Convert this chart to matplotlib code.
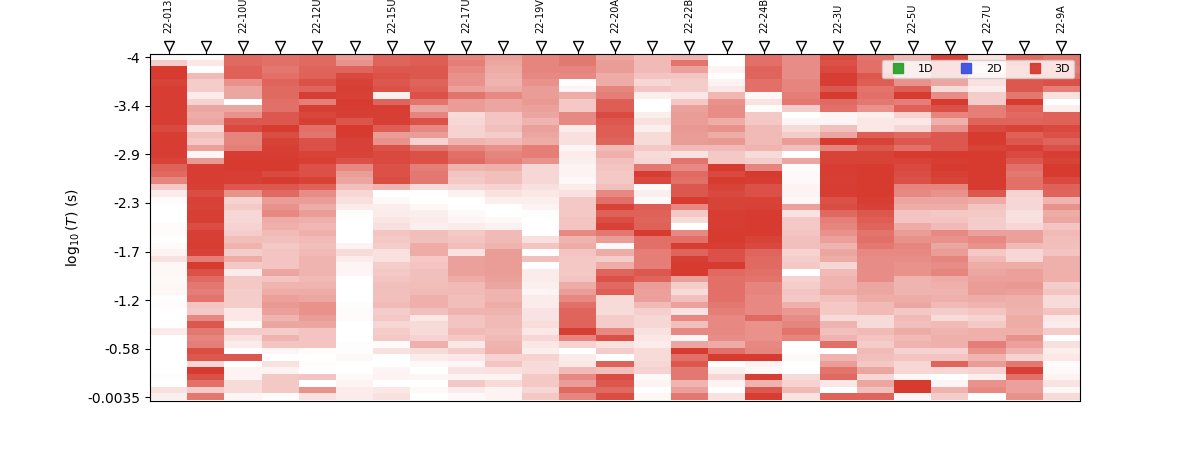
import numpy as np
import matplotlib
matplotlib.use('Agg')
import matplotlib.pyplot as plt
from matplotlib.colors import LinearSegmentedColormap
from matplotlib.lines import Line2D

# fraction of the 3D signal (in percent) per sample, one list per column
c00 = [4,25,100,100,95,98,98,98,98,98,98,92,98,98,98,98,95,80,75,62,28,10,2,0,0,0,2,
       2,0,2,6,15,4,4,3,4,4,1,2,0,0,0,10,0,0,0,0,0,0,1,0,15,8]
c01 = [2,12,0,35,25,25,10,22,45,42,45,18,32,28,48,5,52,98,98,98,97,90,96,95,97,97,90,
       97,97,98,96,65,100,88,75,68,65,70,30,28,60,85,68,62,65,90,85,20,100,88,72,25,68]
c02 = [75,75,80,80,55,45,45,0,45,55,85,92,62,62,65,98,100,100,98,97,85,55,22,27,20,20,22,
       25,33,38,25,42,28,10,28,28,25,25,25,12,12,4,25,15,10,0,85,0,6,6,18,18,5]
c03 = [72,72,68,72,78,76,76,72,72,85,85,100,90,95,97,98,100,100,92,100,85,75,50,55,60,42,40,
       35,32,28,30,30,30,45,30,38,42,48,52,48,38,45,25,38,30,5,0,15,6,28,28,28,2]
c04 = [75,75,78,80,88,78,98,65,97,93,97,72,70,88,88,95,97,88,88,95,80,58,50,42,50,40,36,
       40,35,32,35,38,38,38,35,38,42,45,55,55,50,45,30,30,30,2,0,2,0,30,0,55,15]
c05 = [50,55,78,92,96,97,96,100,98,97,86,100,100,96,96,95,88,60,50,45,32,20,16,10,1,0,0,
       0,0,6,18,10,5,5,0,0,0,0,1,2,2,0,0,0,1,1,3,0,0,3,6,10,10]
c06 = [78,78,85,88,85,88,8,78,98,97,97,82,50,55,88,92,92,88,88,90,38,0,3,8,10,13,16,
       30,28,25,15,16,25,28,30,32,32,32,35,25,28,20,25,28,2,15,0,0,5,6,0,12,15]
c07 = [82,82,85,85,78,82,88,70,45,62,88,60,50,22,70,88,88,65,68,68,18,0,0,4,8,10,8,
       33,32,42,42,28,30,32,32,33,35,40,40,32,12,18,18,22,40,18,10,3,0,5,0,3,0]
c08 = [62,65,60,55,55,48,70,50,50,18,20,22,22,38,62,72,75,38,30,28,20,7,0,0,3,5,10,
       28,30,33,14,48,48,48,42,35,35,33,33,38,30,30,35,28,12,25,12,5,14,6,28,10,3]
c09 = [48,45,42,40,38,42,60,45,45,30,30,32,25,35,55,62,65,40,32,32,22,15,8,0,0,3,7,
       35,35,38,50,50,50,50,48,45,38,38,42,38,35,35,32,35,38,40,22,30,15,6,18,6,6]
c10 = [62,62,62,60,55,50,50,52,48,45,38,48,45,42,65,65,55,20,20,20,16,12,8,6,1,0,0,
       0,16,30,0,32,0,10,10,8,5,10,10,14,14,17,12,20,12,8,22,18,18,28,28,20,28]
c11 = [68,68,62,60,0,5,42,28,28,60,60,10,16,16,5,10,8,6,6,3,10,15,28,28,28,30,30,
       60,38,42,30,28,28,28,30,42,50,60,72,78,78,78,98,62,22,0,10,12,35,60,50,75,62]
c12 = [45,50,50,42,42,62,65,82,82,92,85,82,82,78,35,40,32,30,28,28,32,60,72,95,80,90,96,
       68,50,3,42,25,42,78,88,75,82,18,18,18,25,25,60,88,15,25,0,80,32,90,85,75,90]
c13 = [35,35,35,30,20,30,8,0,0,8,15,8,18,18,28,18,20,68,98,92,2,8,3,82,80,78,80,
       100,72,72,65,65,65,85,78,50,48,48,35,24,20,20,15,12,10,18,18,20,22,3,6,0,4]
c14 = [38,70,48,30,25,25,12,28,48,50,50,52,50,50,35,14,70,60,75,72,85,85,100,60,28,18,0,
       60,72,98,78,97,100,100,48,25,18,32,48,14,60,32,60,5,45,100,72,85,68,68,38,48,68]
c15 = [0,0,6,0,6,12,36,55,58,58,42,55,42,52,35,28,28,100,92,100,95,92,95,95,98,98,98,
       100,100,98,88,88,100,75,72,72,72,72,68,65,60,60,60,58,42,72,100,0,8,20,6,0,15]
c16 = [72,72,78,78,72,72,4,14,2,28,28,35,35,35,38,18,25,62,100,98,88,88,95,96,100,100,100,
       100,95,92,78,75,75,72,70,62,62,60,60,60,75,55,55,55,60,62,100,6,4,97,38,85,98]
c17 = [58,58,58,58,62,62,65,68,25,0,5,18,25,50,32,0,45,2,3,3,6,6,4,48,14,28,28,
       30,32,32,22,25,28,0,22,25,30,28,40,52,58,62,70,62,0,0,3,0,0,18,22,35,14]
c18 = [92,88,92,98,98,85,100,75,72,5,5,32,45,100,62,95,95,98,98,97,98,98,88,90,75,65,62,
       55,48,38,45,42,20,35,38,38,42,32,28,28,18,38,32,38,72,0,38,50,70,75,12,0,80]
c19 = [70,72,72,85,82,70,72,68,55,8,12,12,82,95,85,95,95,100,100,100,100,100,98,96,85,82,78,
       70,72,68,60,58,58,58,58,45,45,42,35,35,18,18,35,30,26,35,32,28,45,20,45,32,78]
c20 = [35,40,40,40,55,82,100,65,80,22,12,20,75,85,72,100,95,92,90,88,62,60,45,42,30,30,42,
       50,55,62,60,58,55,55,38,38,38,42,45,28,35,32,42,35,38,22,30,20,20,4,100,100,5]
c21 = [95,70,70,70,45,18,58,100,88,62,40,55,85,85,85,100,98,100,97,95,62,55,45,42,28,30,35,
       60,55,45,50,62,58,62,42,40,38,40,35,25,18,35,38,40,40,22,30,78,20,0,5,38,25]
c22 = [15,20,12,20,15,10,25,25,65,65,78,92,100,100,95,100,100,100,100,100,100,85,42,30,28,25,25,
       48,60,55,28,35,42,45,48,50,50,42,38,30,22,28,40,40,65,55,38,50,22,8,55,60,0]
c23 = [75,78,72,72,85,85,68,100,80,75,78,95,80,85,97,92,85,72,68,72,72,22,20,20,16,16,20,
       48,48,35,20,20,42,48,48,52,48,40,40,38,42,42,40,55,48,38,22,68,97,72,48,48,55]
c24 = [68,68,65,72,88,65,15,0,8,80,80,92,88,78,88,98,95,100,100,92,80,78,38,55,42,45,30,
       35,33,32,30,40,40,40,40,25,30,18,18,30,12,10,25,0,16,8,12,2,3,6,14,4,18]

sample_labels = ['22-013','22-10U','22-12U','22-15U','22-17U','22-19V','22-20A',
                 '22-22B','22-24B','22-3U','22-5U','22-7U','22-9A']
y_labels = ['-4','-3.4','-2.9','-2.3','-1.7','-1.2','-0.58','-0.0035']
legend_names = ['1D','2D','3D']
legend_colors = ['#2ca02c','#3b4fe0','#d73a2f']

columns = [c00,c01,c02,c03,c04,c05,c06,c07,c08,c09,c10,c11,c12,
           c13,c14,c15,c16,c17,c18,c19,c20,c21,c22,c23,c24]
grid = np.array(columns).T/100.0
n_rows, n_cols = grid.shape

reds = LinearSegmentedColormap.from_list('white_red',['#ffffff','#d73a2f'])

fig = plt.figure(figsize=(12,4.5),dpi=100)
ax = fig.add_subplot(111)
ax.imshow(grid,cmap=reds,vmin=0,vmax=1,aspect='auto',interpolation='nearest')

ax.set_yticks(np.linspace(0,n_rows-1,len(y_labels)))
ax.set_yticklabels(y_labels)
ax.set_ylabel(r'$\log_{10}(T)$ (s)')

ax.xaxis.tick_top()
ax.set_xticks(range(n_cols))
ax.set_xticklabels([sample_labels[i//2] if i%2==0 else '' for i in range(n_cols)],
                   rotation=90,fontsize=7)
ax.tick_params(axis='x',pad=11.5)

# open triangles sitting on the top ticks
ax.plot(range(n_cols),[1.0245]*n_cols,'v',ms=6.5,mfc='white',mec='black',mew=1,
        transform=ax.get_xaxis_transform(),clip_on=False,zorder=5)

handles = [Line2D([],[],ls='',marker='s',ms=7,color=c,mec=c,alpha=0.95) for c in legend_colors]
ax.legend(handles,legend_names,ncol=3,loc='upper right',fontsize=8,columnspacing=1.95)

fig.savefig('out.png',dpi=100)
